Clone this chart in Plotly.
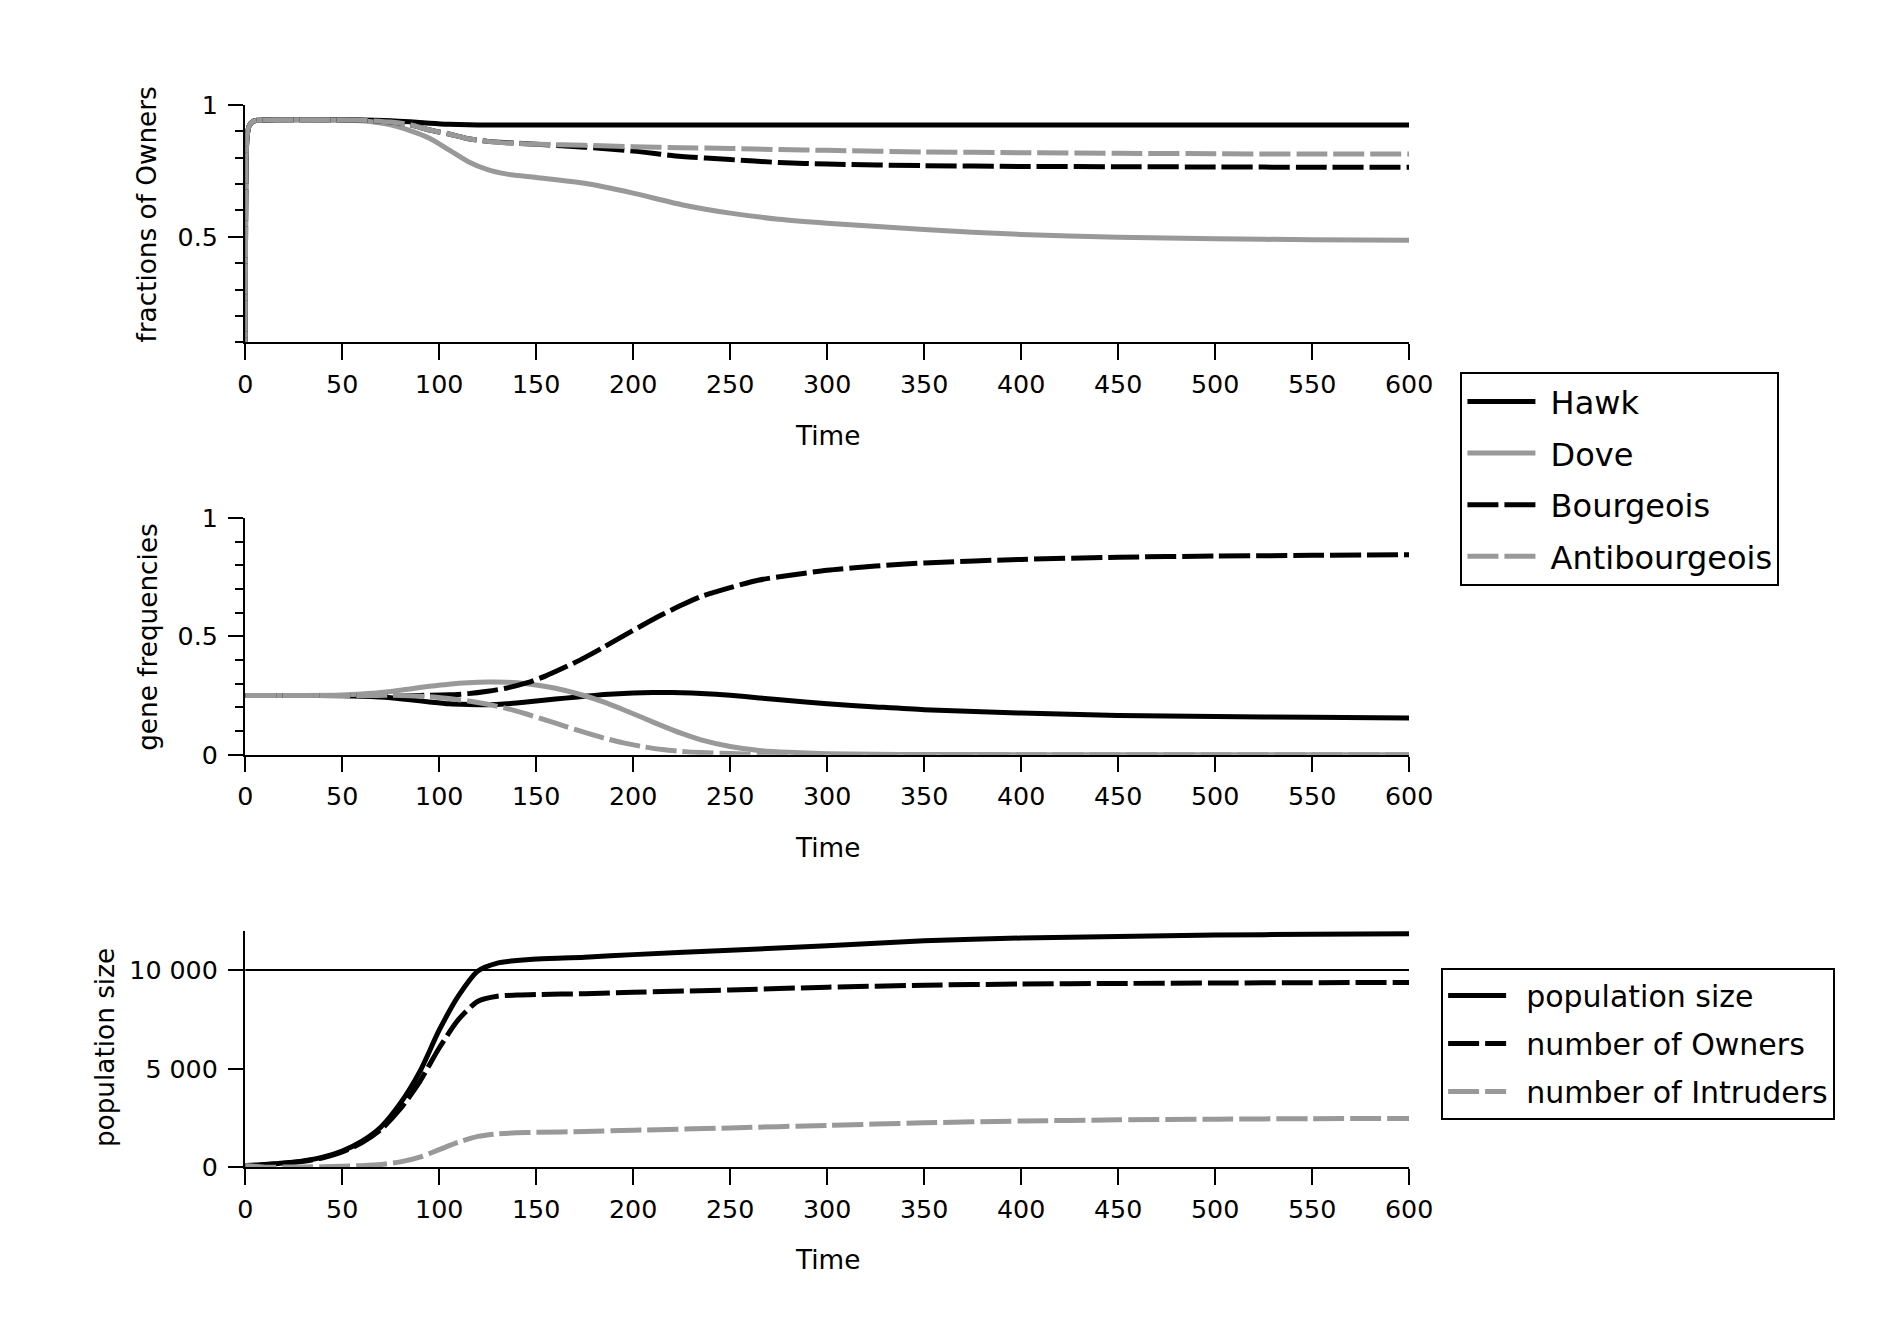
import plotly.graph_objects as go

# ---------------- data ----------------
t_top = [0, 0.5, 1, 2, 4, 8, 20, 40, 60, 75, 85, 95, 105, 115, 125, 135, 150, 175,
         200, 225, 250, 275, 300, 350, 400, 450, 500, 550, 600]
hawk_own = [0.0, 0.80, 0.88, 0.92, 0.938, 0.943, 0.944, 0.944, 0.943, 0.940, 0.936, 0.931,
            0.927, 0.925, 0.924, 0.924, 0.924, 0.924, 0.924, 0.924, 0.924, 0.924, 0.924,
            0.924, 0.924, 0.924, 0.924, 0.924, 0.924]
dove_own = [0.0, 0.80, 0.88, 0.92, 0.938, 0.943, 0.944, 0.943, 0.940, 0.925, 0.903, 0.874,
            0.830, 0.785, 0.755, 0.738, 0.725, 0.703, 0.666, 0.622, 0.590, 0.567, 0.552,
            0.528, 0.509, 0.499, 0.493, 0.489, 0.487]
bourg_own = [0.0, 0.80, 0.88, 0.92, 0.938, 0.943, 0.944, 0.944, 0.942, 0.935, 0.925, 0.905,
             0.890, 0.872, 0.862, 0.857, 0.851, 0.840, 0.825, 0.805, 0.793, 0.782, 0.776,
             0.770, 0.767, 0.766, 0.765, 0.764, 0.764]
anti_own = [0.0, 0.80, 0.88, 0.92, 0.938, 0.943, 0.944, 0.944, 0.942, 0.935, 0.925, 0.905,
            0.890, 0.872, 0.862, 0.856, 0.851, 0.847, 0.842, 0.838, 0.835, 0.831, 0.828,
            0.822, 0.819, 0.817, 0.815, 0.814, 0.814]

t_mid = [0, 25, 50, 60, 75, 85, 95, 105, 115, 125, 135, 145, 155, 165, 175, 185, 195, 205,
         215, 225, 235, 250, 265, 280, 300, 325, 350, 400, 450, 500, 550, 600]
hawk_gene = [0.25, 0.25, 0.249, 0.247, 0.241, 0.232, 0.223, 0.215, 0.212, 0.211, 0.215,
             0.223, 0.231, 0.239, 0.247, 0.254, 0.259, 0.262, 0.263, 0.262, 0.259, 0.251,
             0.240, 0.229, 0.215, 0.202, 0.190, 0.176, 0.166, 0.161, 0.158, 0.155]
dove_gene = [0.25, 0.25, 0.252, 0.256, 0.267, 0.278, 0.289, 0.298, 0.304, 0.307, 0.306,
             0.300, 0.288, 0.271, 0.249, 0.222, 0.190, 0.156, 0.122, 0.090, 0.063, 0.035,
             0.018, 0.010, 0.004, 0.002, 0.001, 0.0, 0.0, 0.0, 0.0, 0.0]
bourg_gene = [0.25, 0.25, 0.25, 0.25, 0.25, 0.25, 0.251, 0.253, 0.258, 0.268, 0.282, 0.303,
              0.333, 0.370, 0.410, 0.455, 0.502, 0.548, 0.592, 0.632, 0.668, 0.706, 0.738,
              0.757, 0.779, 0.797, 0.810, 0.825, 0.834, 0.839, 0.842, 0.845]
anti_gene = [0.25, 0.25, 0.25, 0.25, 0.251, 0.249, 0.245, 0.237, 0.227, 0.213, 0.195, 0.172,
             0.146, 0.120, 0.094, 0.070, 0.050, 0.034, 0.022, 0.014, 0.009, 0.005, 0.002,
             0.001, 0.0, 0.0, 0.0, 0.0, 0.0, 0.0, 0.0, 0.0]

t_bot = [0, 10, 20, 30, 40, 50, 60, 70, 80, 90, 100, 110, 120, 130, 140, 150, 175, 200,
         250, 300, 350, 400, 450, 500, 550, 600]
pop_size = [100, 150, 220, 330, 520, 830, 1320, 2050, 3250, 4850, 6950, 8700, 9950, 10350,
            10480, 10560, 10650, 10780, 11000, 11230, 11480, 11620, 11700, 11770, 11810, 11840]
owners_n = [0, 140, 205, 310, 490, 780, 1240, 1920, 2970, 4350, 6050, 7500, 8420, 8670,
            8730, 8760, 8800, 8870, 8990, 9130, 9230, 9290, 9320, 9340, 9360, 9370]
intruders_n = [100, 10, 15, 25, 35, 55, 90, 150, 280, 520, 900, 1280, 1570, 1700, 1750,
               1775, 1820, 1880, 2000, 2130, 2260, 2350, 2410, 2445, 2470, 2480]
capacity = 10000

x_ticks = list(range(0, 601, 50))
strategy_names = ["Hawk", "Dove", "Bourgeois", "Antibourgeois"]
pop_names = ["population size", "number of Owners", "number of Intruders"]

# ---------------- styles ----------------
BLACK = "#000000"
GRAY = "#999999"
LW = 5
DASH = "31px,6px"
FONT = "DejaVu Sans"
W, H = 1899, 1336

# screen-pixel -> figure-pixel conversion (compensates for the page capture)
def fx(px):
    return (px - 17.5) / 0.9832

def fy(py):
    return (py - 22.1) / 0.9776

fig = go.Figure()

styles = [(BLACK, "solid"), (GRAY, "solid"), (BLACK, DASH), (GRAY, DASH)]
top_series = [hawk_own, dove_own, bourg_own, anti_own]
mid_series = [hawk_gene, dove_gene, bourg_gene, anti_gene]

for name, ys, (c, d) in zip(strategy_names, top_series, styles):
    fig.add_trace(go.Scatter(x=t_top, y=ys, mode="lines", name="\u00a0" + name,
                             line=dict(color=c, width=LW, dash=d, shape="spline", smoothing=0.7),
                             xaxis="x", yaxis="y", legend="legend",
                             legendgroup=name, showlegend=True))
for name, ys, (c, d) in zip(strategy_names, mid_series, styles):
    fig.add_trace(go.Scatter(x=t_mid, y=ys, mode="lines", name=name,
                             line=dict(color=c, width=LW, dash=d, shape="spline", smoothing=0.7),
                             xaxis="x2", yaxis="y2", showlegend=False))

bot_styles = [(BLACK, "solid"), (BLACK, DASH), (GRAY, DASH)]
for name, ys, (c, d) in zip(pop_names, [pop_size, owners_n, intruders_n], bot_styles):
    fig.add_trace(go.Scatter(x=t_bot, y=ys, mode="lines", name="\u2002" + name,
                             line=dict(color=c, width=LW, dash=d, shape="spline", smoothing=0.7),
                             xaxis="x3", yaxis="y3", legend="legend2",
                             legendgroup=name, showlegend=True))

fig.add_shape(type="line", xref="x3", yref="y3", x0=0, x1=600, y0=capacity, y1=capacity,
              line=dict(color=BLACK, width=2), layer="below")

# ---------------- layout ----------------
xl, xr = fx(246.7) / W, fx(1410.7) / W

def ydom(top_px, bot_px):
    return [1 - fy(bot_px) / H, 1 - fy(top_px) / H]

tickfont = dict(family=FONT, size=25.3, color=BLACK)

def xaxis_cfg(anchor):
    return dict(domain=[xl, xr], range=[0, 600], anchor=anchor,
                tickmode="array", tickvals=x_ticks, ticktext=[str(v) for v in x_ticks],
                ticks="outside", ticklen=15.3, tickwidth=2, tickcolor=BLACK,
                ticklabelstandoff=3,
                showline=True, linecolor=BLACK, linewidth=2, showgrid=False, zeroline=False,
                tickfont=tickfont)

def yaxis_cfg(anchor, dom, rng, vals, texts, minor_vals=None):
    cfg = dict(domain=dom, range=rng, anchor=anchor,
               tickmode="array", tickvals=vals, ticktext=texts,
               ticks="outside", ticklen=15.3, tickwidth=2, tickcolor=BLACK,
               ticklabelstandoff=5,
               showline=True, linecolor=BLACK, linewidth=2, showgrid=False, zeroline=False,
               tickfont=tickfont)
    if minor_vals:
        cfg["minor"] = dict(tickmode="array", tickvals=minor_vals, ticks="outside",
                            ticklen=8.2, tickwidth=2, tickcolor=BLACK, showgrid=False)
    return cfg

minor_tenths = [0.1, 0.2, 0.3, 0.4, 0.6, 0.7, 0.8, 0.9]

fig.update_layout(
    width=W, height=H,
    margin=dict(l=0, r=0, t=0, b=0),
    paper_bgcolor="white", plot_bgcolor="white",
    font=dict(family=FONT, size=25.3, color=BLACK),
    xaxis=xaxis_cfg("y"),
    xaxis2=xaxis_cfg("y2"),
    xaxis3=xaxis_cfg("y3"),
    yaxis=yaxis_cfg("x", ydom(105, 342.3), [0.1, 1], [0.5, 1], ["0.5", "1"], minor_tenths),
    yaxis2=yaxis_cfg("x2", ydom(517.7, 754.3), [0, 1], [0, 0.5, 1], ["0", "0.5", "1"],
                     minor_tenths),
    yaxis3=yaxis_cfg("x3", ydom(930, 1166.7), [0, 12000], [0, 5000, 10000],
                     ["0", "5 000", "10 000"]),
    legend=dict(x=fx(1462) / W, y=1 - fy(372) / H, xanchor="left", yanchor="top",
                bgcolor="white", bordercolor=BLACK, borderwidth=2,
                font=dict(family=FONT, size=32, color=BLACK),
                traceorder="grouped", tracegroupgap=7, itemwidth=68),
    legend2=dict(x=fx(1442.7) / W, y=1 - fy(967) / H, xanchor="left", yanchor="top",
                 bgcolor="white", bordercolor=BLACK, borderwidth=2,
                 font=dict(family=FONT, size=30, color=BLACK),
                 traceorder="grouped", tracegroupgap=6, itemwidth=58),
    showlegend=True,
)

# axis titles as annotations
def ann(text, x_px, y_px, angle=0):
    fig.add_annotation(text=text, x=fx(x_px) / W, y=1 - fy(y_px) / H,
                       xref="paper", yref="paper",
                       showarrow=False, textangle=angle, xanchor="center", yanchor="middle",
                       font=dict(family=FONT, size=26.3, color=BLACK))

ann("Time", 828.7, 436)
ann("Time", 828.7, 847.7)
ann("Time", 828.7, 1259.4)
ann("fractions of Owners", 149, 214, -90)
ann("gene frequencies", 150, 636, -90)
ann("population size", 106, 1047, -90)

fig.write_html("out.html")
